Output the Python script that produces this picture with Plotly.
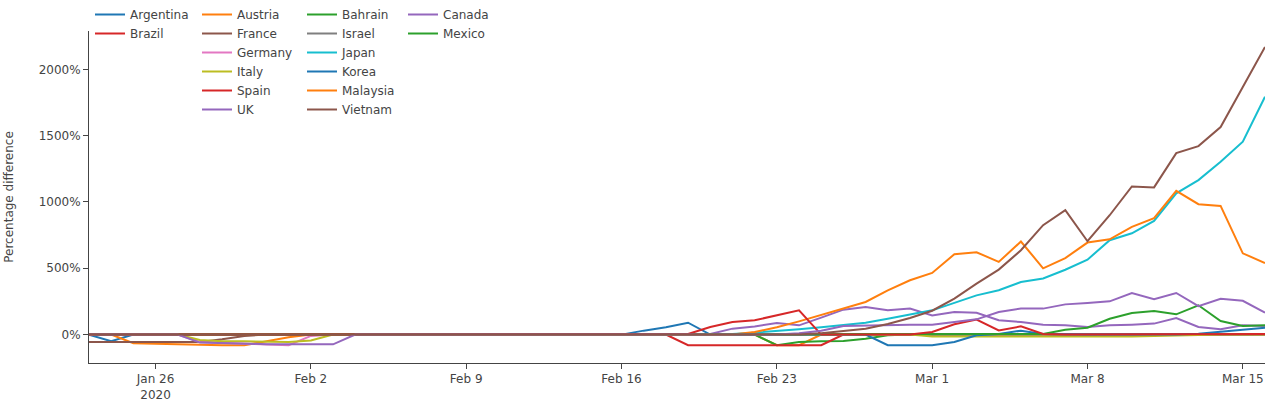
import pandas as pd
import plotly.graph_objects as go

START = "2020-01-23"
END = "2020-03-16"
dates = pd.date_range(START, END, freq="D")

countries = ["Argentina", "Austria", "Bahrain", "Brazil", "Canada", "France", "Germany", "Israel",
             "Italy", "Japan", "Korea", "Malaysia", "Mexico", "Spain", "UK", "Vietnam"]

argentina = [0, -50, 0] + [0] * 21 + [0, 30, 55, 90, 0] + [0] * 25
austria = [0, 0, -65, -70, -75, -75, -80, -80, -50, -20, 0] + [0] * 20 + [-80, -80, 0] + [0] * 20
bahrain = [0] * 31 + [-80, -56, -50, -48, -31, -5, 0] + [0] * 16
brazil = [0] * 27 + [-80, -80, -80, -80, -80, -80, -80] + [0] * 20
canada = [0] * 28 + [5, 45, 62, 87, 70, 128, 188, 208, 183, 196, 145, 170, 165, 108, 95, 75, 70,
                     57, 70, 75, 83, 125, 57, 40, 70, 65]
france = [-55, -55, -55, -55, -55, -55, -35, -10] + [0] * 46
germany = [0] * 5 + [-55, -60, -65, -75, -80, -10] + [0] * 43
israel = [0] * 54
italy = [0] * 5 + [-40, -50, -50, -55, -55, -45] + [0] * 27 + \
        [-15, -15, -18, -18, -20, -20, -20, -20, -18, -15, -10, -5] + [0] * 4
japan = [0] * 29 + [5, 15, 25, 40, 55, 70, 90, 120, 150, 183, 239, 296, 334, 397, 423, 489, 565,
                    712, 764, 857, 1065, 1165, 1303, 1454, 1793]
korea = [0] * 36 + [-80, -80, -80, -55, -5, 5, 30, 5, 0, 0, 0, 0, 0, 0, 7, 20, 37, 52]
malaysia = [0] * 30 + [20, 55, 100, 150, 200, 246, 334, 410, 465, 606, 621, 548, 702, 500, 577,
                       694, 719, 812, 878, 1084, 983, 970, 613, 540]
mexico = [0] * 43 + [5, 37, 52, 120, 163, 178, 153, 221, 103, 65, 70]
spain = [0] * 27 + [5, 57, 95, 108, 145, 183, 0] + [0] * 4 + [20, 78, 113, 32, 62, 5] + \
        [0, 0, 0, 0, 0, 0, 0, 0, 2, 5]
uk = [0] * 5 + [-60, -65, -70, -72, -73, -73, -73] + [0] * 20 + \
     [10, 30, 65, 70, 70, 75, 75, 95, 115, 171, 196, 196, 228, 239, 251, 314, 266, 314, 215,
      270, 255, 165]
vietnam = [0] * 33 + [10, 25, 45, 80, 125, 180, 272, 385, 490, 636, 825, 938, 704, 900, 1117,
                      1110, 1368, 1421, 1565, 1866, 2168]

series = [argentina, austria, bahrain, brazil, canada, france, germany, israel,
          italy, japan, korea, malaysia, mexico, spain, uk, vietnam]

colors = ["#1f77b4", "#ff7f0e", "#2ca02c", "#d62728", "#9467bd", "#8c564b", "#e377c2", "#7f7f7f",
          "#bcbd22", "#17becf", "#1f77b4", "#ff7f0e", "#2ca02c", "#d62728", "#9467bd", "#8c564b"]

legend_of = {
    "Argentina": "legend", "Brazil": "legend",
    "Austria": "legend2", "France": "legend2", "Germany": "legend2", "Italy": "legend2",
    "Spain": "legend2", "UK": "legend2",
    "Bahrain": "legend3", "Israel": "legend3", "Japan": "legend3", "Korea": "legend3",
    "Malaysia": "legend3", "Vietnam": "legend3",
    "Canada": "legend4", "Mexico": "legend4",
}

fig = go.Figure()
for name, vals, col in zip(countries, series, colors):
    fig.add_trace(go.Scatter(x=dates, y=vals, mode="lines", name=name,
                             line=dict(color=col, width=2), legend=legend_of[name]))

FONT = "Verdana, DejaVu Sans, sans-serif"
plot_l, plot_r, plot_t, plot_b = 89, 15, 31, 40
pw = 1280 - plot_l - plot_r
ph = 403 - plot_t - plot_b

def lx(px):
    return (px - plot_l) / pw

ly = 1 + (plot_t - 0) / ph

leg_common = dict(yanchor="top", xanchor="left", y=ly, bgcolor="rgba(0,0,0,0)",
                  font=dict(family=FONT, size=12, color="#444"), traceorder="normal")

fig.update_layout(
    width=1280, height=403,
    margin=dict(l=plot_l, r=plot_r, t=plot_t, b=plot_b, autoexpand=False),
    paper_bgcolor="white", plot_bgcolor="white",
    font=dict(family=FONT, size=12, color="#444"),
    legend=dict(x=lx(90), **leg_common),
    legend2=dict(x=lx(197), **leg_common),
    legend3=dict(x=lx(302), **leg_common),
    legend4=dict(x=lx(403), **leg_common),
    xaxis=dict(range=[START, END], showgrid=False, zeroline=False, showline=True,
               linecolor="#444", linewidth=1, ticks="outside", ticklen=5, tickcolor="#444",
               dtick=7 * 86400000, tick0="2020-01-26"),
    yaxis=dict(range=[-214, 2289], showgrid=False, zeroline=False, showline=True,
               linecolor="#444", linewidth=1, ticks="outside", ticklen=5, tickcolor="#444",
               dtick=500, tick0=0, ticksuffix="%",
               title=dict(text="Percentage difference", font=dict(size=12), standoff=22)),
)

fig.write_html("out.html", config={"displayModeBar": False},
               post_script="document.body.style.margin='0';")
